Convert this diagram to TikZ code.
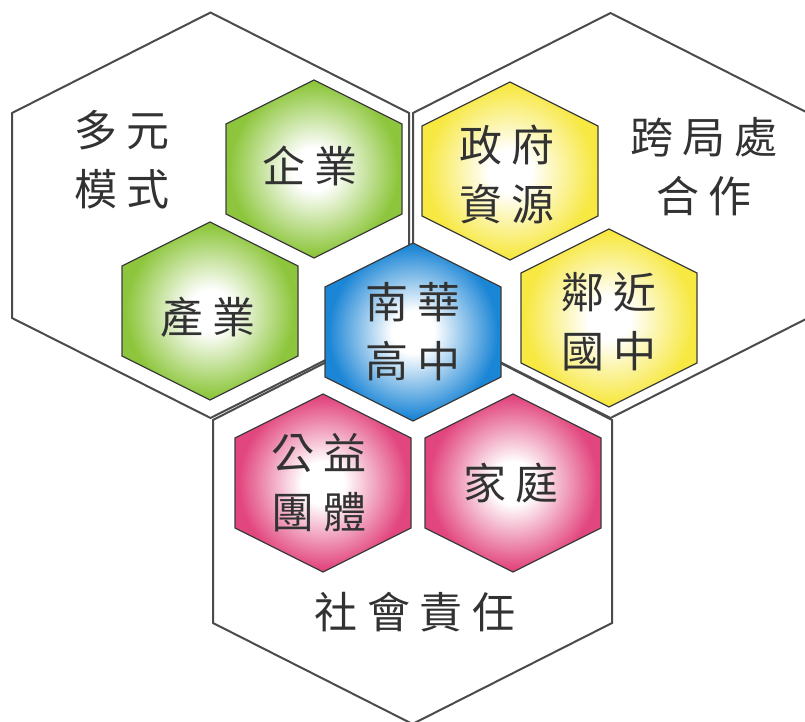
\documentclass[tikz,border=0pt]{standalone}
\usepackage{fontspec}
\newfontfamily\cjk{Noto Sans CJK TC}[LetterSpace=22]
\definecolor{hgreen}{RGB}{141,198,60}
\definecolor{hyellow}{RGB}{247,232,66}
\definecolor{hblue}{RGB}{28,134,214}
\definecolor{hpink}{RGB}{226,70,126}
\definecolor{bigline}{RGB}{75,75,75}
\definecolor{smallline}{RGB}{60,60,60}
\definecolor{txt}{RGB}{50,50,50}
\pgfdeclareradialshading{shgreen}{\pgfpoint{0bp}{0bp}}{color(0bp)=(white); color(6bp)=(white); color(24bp)=(hgreen); color(50bp)=(hgreen)}
\pgfdeclareradialshading{shyellow}{\pgfpoint{0bp}{0bp}}{color(0bp)=(white); color(6bp)=(white); color(24bp)=(hyellow); color(50bp)=(hyellow)}
\pgfdeclareradialshading{shblue}{\pgfpoint{0bp}{0bp}}{color(0bp)=(white); color(6bp)=(white); color(24bp)=(hblue); color(50bp)=(hblue)}
\pgfdeclareradialshading{shpink}{\pgfpoint{0bp}{0bp}}{color(0bp)=(white); color(6bp)=(white); color(24bp)=(hpink); color(50bp)=(hpink)}
\newcommand\smallhexagon[3]{%
  \draw[hexline, shading=#1, shift={(#2,#3)}] (0,-89) -- (88,-45) -- (88,45) -- (0,89) -- (-88,45) -- (-88,-45) -- cycle;}
\begin{document}
\begin{tikzpicture}[x=1pt,y=-1pt,
  bighex/.style={draw=bigline, line width=2pt, line join=miter},
  hexline/.style={draw=smallline, line width=1.3pt, line join=miter},
  lbl/.style={text=txt, font=\cjk\fontsize{43}{59}\selectfont, align=center, inner sep=0pt}]
\useasboundingbox (0,0) rectangle (805,722);
\fill[white] (0,0) rectangle (805,722);
% large hexagons
\draw[bighex] (210.5,12.5) -- (409,113) -- (409,318) -- (210.5,418) -- (12,318) -- (12,113) -- cycle;
\draw[bighex] (610.5,13) -- (808,113) -- (808,318) -- (610.5,418) -- (413,318) -- (413,113) -- cycle;
\draw[bighex] (412.5,318) -- (612,420) -- (612,623) -- (412.5,724) -- (213,623) -- (213,420) -- cycle;
% small hexagons
\smallhexagon{shgreen}{314}{169}
\smallhexagon{shgreen}{210}{311}
\smallhexagon{shblue}{413}{332}
\smallhexagon{shyellow}{510}{171}
\smallhexagon{shyellow}{609}{318}
\smallhexagon{shpink}{323}{483}
\smallhexagon{shpink}{513}{483}
% labels
\node[lbl] (duoyuan) at (122,160) {多元\\模式};
\node[lbl] (qiye) at (310,166) {企業};
\node[lbl] (chanye) at (208,317) {產業};
\node[lbl] (nanhua) at (413,332) {南華\\高中};
\node[lbl] (zhengfu) at (507,174) {政府\\資源};
\node[lbl] (kuaju) at (704,167) {跨局處\\合作};
\node[lbl] (linjin) at (609,322) {鄰近\\國中};
\node[lbl] (gongyi) at (319,483) {公益\\團體};
\node[lbl] (jiating) at (511,483) {家庭};
\node[lbl] (shehui) at (415,612) {社會責任};
\end{tikzpicture}
\end{document}
